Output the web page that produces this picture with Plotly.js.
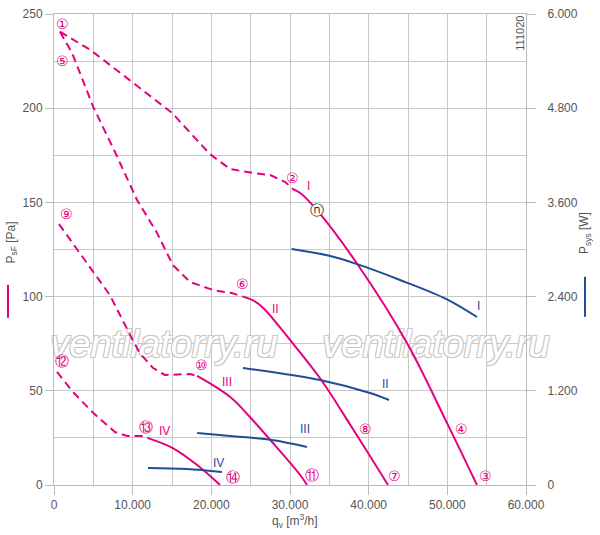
<!DOCTYPE html>
<html>
<head>
<meta charset="utf-8">
<script src="https://cdn.plot.ly/plotly-3.0.1.min.js"></script>
<style>
  html, body { margin: 0; padding: 0; background: #fff; }
  #plotly { width: 600px; height: 535px; }
</style>
</head>
<body>
<div id="plotly"></div>
<script>
// fan curves, q in m3/h, p in Pa, power in W
var pink = '#e5007d';
var blue = '#1f4e96';
var grid = '#c8c8c8';

// speed I
var q1Dash = [760, 4600, 9900, 15000, 19800, 22400, 25300, 27500, 29400, 30400];
var p1Dash = [240.6, 231, 214, 197.5, 175.7, 167.7, 165.6, 164.5, 160.8, 157];
var q1 = [30400, 31300, 33400, 38640, 44870, 49950, 53770];
var p1 = [157, 155, 146, 116.8, 75.4, 33, 0];
var q1Pow = [30200, 35000, 38640, 43980, 49950, 53770];
var w1Pow = [3007, 2920, 2810, 2612, 2365, 2140];

// speed II
var q2Dash = [760, 2300, 5000, 7750, 10550, 13100, 15100, 17300, 20200, 22600, 24000];
var p2Dash = [240.6, 229.3, 200.6, 176.8, 151.3, 133.8, 116.8, 107.7, 103.5, 101.9, 100];
var q2 = [24000, 25300, 26600, 30000, 33800, 38000, 42460];
var p2 = [100, 98, 94, 77, 56.8, 29.7, 0];
var q2Pow = [24020, 33810, 40170, 42590];
var w2Pow = [1491, 1338, 1172, 1083];

// speed III
var q3Dash = [640, 4600, 7100, 10000, 10900, 12600, 14100, 17300, 18200];
var p3Dash = [138.5, 115.2, 100.8, 77, 70, 62.1, 58.4, 58.9, 57.9];
var q3 = [18200, 22400, 24900, 27500, 31300, 32160];
var p3 = [57.9, 46.7, 36.1, 23.9, 5.3, 0];
var q3Pow = [18200, 22400, 27700, 32160];
var w3Pow = [662, 624, 573, 484];

// speed IV
var q4Dash = [380, 2400, 5000, 7750, 9300, 11300, 11950];
var p4Dash = [60, 49.4, 38.2, 28.1, 26, 26, 24.9];
var q4 = [11950, 15100, 18200, 21100];
var p4 = [24.9, 19.6, 10.6, 0];
var q4Pow = [11950, 16900, 21350];
var w4Pow = [217, 204, 166];

// operating point
var opQ = [33400];
var opP = [146];

// watermark
var wmText = ['ventilatorry.ru', 'ventilatorry.ru'];
var wmQ = [13980, 48560];
var wmP = [73.2, 73.2];

// circled point labels
var markText = ['\u2460', '\u2464', '\u2461', '\u2465', '\u2468', '\u2469', '\u246B', '\u246C',
                '\u246D', '\u246A', '\u2466', '\u2462', '\u2467', '\u2463'];
var markQ = [1020, 1020, 30380, 23900, 1650, 18700, 1020, 11700, 22750, 32790, 43220, 54910, 39600, 51860];
var markP = [244.7, 225, 163, 106.7, 143.8, 63.7, 65.8, 30.8, 4.2, 5.3, 4.8, 4.8, 29.7, 29.7];

// speed labels
var speedText = ['I', 'II', 'III', 'IV', 'I', 'II', 'III', 'IV'];
var speedQ = [32400, 28200, 22000, 14000, 53900, 42200, 31900, 20970];
var speedP = [158.7, 93.4, 54.7, 28.7, 95, 53.6, 29.7, 11.7];
var speedKind = ['p', 'p', 'p', 'p', 'w', 'w', 'w', 'w'];

function dashed(x, y) {
  return {x: x, y: y, mode: 'lines', yaxis: 'y',
    line: {color: pink, width: 2, dash: '8px,5px'}, hoverinfo: 'skip'};
}
function solid(x, y) {
  return {x: x, y: y, mode: 'lines', yaxis: 'y',
    line: {color: pink, width: 2, shape: 'spline', smoothing: 1}, hoverinfo: 'skip'};
}
function power(x, y) {
  return {x: x, y: y, mode: 'lines', yaxis: 'y2',
    line: {color: blue, width: 2, shape: 'spline', smoothing: 1}, hoverinfo: 'skip'};
}

var data = [
  {x: wmQ, y: wmP, text: wmText, mode: 'text', yaxis: 'y', cliponaxis: false,
    textposition: 'middle center', hoverinfo: 'skip',
    textfont: {family: 'Liberation Sans, Arial, sans-serif', size: 38, style: 'italic',
      color: '#ffffff',
      shadow: '1px 1px 0 #c8c8c8, -1px -1px 0 #c8c8c8, 1px -1px 0 #c8c8c8, -1px 1px 0 #c8c8c8'}},
  dashed(q1Dash, p1Dash), solid(q1, p1), power(q1Pow, w1Pow),
  dashed(q2Dash, p2Dash), solid(q2, p2), power(q2Pow, w2Pow),
  dashed(q3Dash, p3Dash), solid(q3, p3), power(q3Pow, w3Pow),
  dashed(q4Dash, p4Dash), solid(q4, p4), power(q4Pow, w4Pow),
  {x: opQ, y: opP, mode: 'markers', yaxis: 'y',
    marker: {color: '#fff', size: 13}, hoverinfo: 'skip'}
];

var tickFont = {family: 'Liberation Sans, Arial, sans-serif', size: 12, color: '#555'};
var annotations = [];

markText.forEach(function (t, i) {
  annotations.push({x: markQ[i], y: markP[i], xref: 'x', yref: 'y', text: t, showarrow: false,
    xanchor: 'center', yanchor: 'middle',
    font: {family: 'DejaVu Sans', size: 14, color: pink}});
});
annotations.push({x: opQ[0], y: opP[0], xref: 'x', yref: 'y', text: '\u24DD', showarrow: false,
  xanchor: 'center', yanchor: 'middle',
  font: {family: 'DejaVu Sans', size: 14, color: '#222'}});

speedText.forEach(function (t, i) {
  annotations.push({x: speedQ[i], y: speedP[i], xref: 'x', yref: 'y', text: t, showarrow: false,
    xanchor: 'center', yanchor: 'middle',
    font: {family: 'Liberation Sans Narrow, Liberation Sans, sans-serif', size: 12,
      color: speedKind[i] === 'p' ? pink : blue}});
});

// drawing number
annotations.push({x: 0.987, y: 0.96, xref: 'paper', yref: 'paper', text: '111020',
  xanchor: 'center', yanchor: 'middle',
  textangle: -90, showarrow: false, font: {family: 'Liberation Sans, sans-serif', size: 11, color: '#555'}});

// axis titles
annotations.push({x: -0.089, y: 0.515, xref: 'paper', yref: 'paper', textangle: -90, showarrow: false,
  xanchor: 'center', yanchor: 'middle', text: 'P<sub>sF</sub> [Pa]', font: tickFont});
annotations.push({x: 1.125, y: 0.535, xref: 'paper', yref: 'paper', textangle: -90, showarrow: false,
  xanchor: 'center', yanchor: 'middle', text: 'P<sub>sys</sub> [W]', font: tickFont});
annotations.push({x: 0.511, y: -0.076, xref: 'paper', yref: 'paper', showarrow: false,
  xanchor: 'center', yanchor: 'middle', text: 'q<sub>v</sub> [m<sup>3</sup>/h]', font: tickFont});

var shapes = [
  {type: 'line', xref: 'paper', yref: 'paper', x0: -0.0975, x1: -0.0975, y0: 0.355, y1: 0.425,
    line: {color: pink, width: 2}},
  {type: 'line', xref: 'paper', yref: 'paper', x0: 1.125, x1: 1.125, y0: 0.357, y1: 0.442,
    line: {color: blue, width: 2}}
];

var layout = {
  width: 600,
  height: 535,
  margin: {l: 54, r: 74, t: 14, b: 50},
  paper_bgcolor: '#fff',
  plot_bgcolor: '#fff',
  showlegend: false,
  separators: ',.',
  font: tickFont,
  xaxis: {
    range: [0, 60000], tick0: 0, dtick: 10000, tickformat: ',',
    ticks: 'outside', ticklen: 9, tickcolor: '#bbb',
    showline: true, linecolor: '#bbb', mirror: true,
    showgrid: true, gridcolor: grid, zeroline: false,
    minor: {dtick: 5000, showgrid: true, gridcolor: grid},
    tickfont: tickFont
  },
  yaxis: {
    range: [0, 250], tick0: 0, dtick: 50,
    ticks: 'outside', ticklen: 8, tickcolor: '#bbb',
    showline: true, linecolor: '#bbb',
    showgrid: true, gridcolor: grid, zeroline: false,
    minor: {dtick: 25, showgrid: true, gridcolor: grid},
    tickfont: tickFont
  },
  yaxis2: {
    overlaying: 'y', side: 'right',
    range: [0, 6000], tick0: 0, dtick: 1200, tickformat: ',',
    ticks: 'outside', ticklen: 9, tickcolor: '#bbb', ticklabelstandoff: 9,
    showline: true, linecolor: '#bbb',
    showgrid: false, zeroline: false,
    tickfont: tickFont
  },
  annotations: annotations,
  shapes: shapes
};

Plotly.newPlot('plotly', data, layout, {displayModeBar: false, staticPlot: true});
</script>
</body>
</html>
